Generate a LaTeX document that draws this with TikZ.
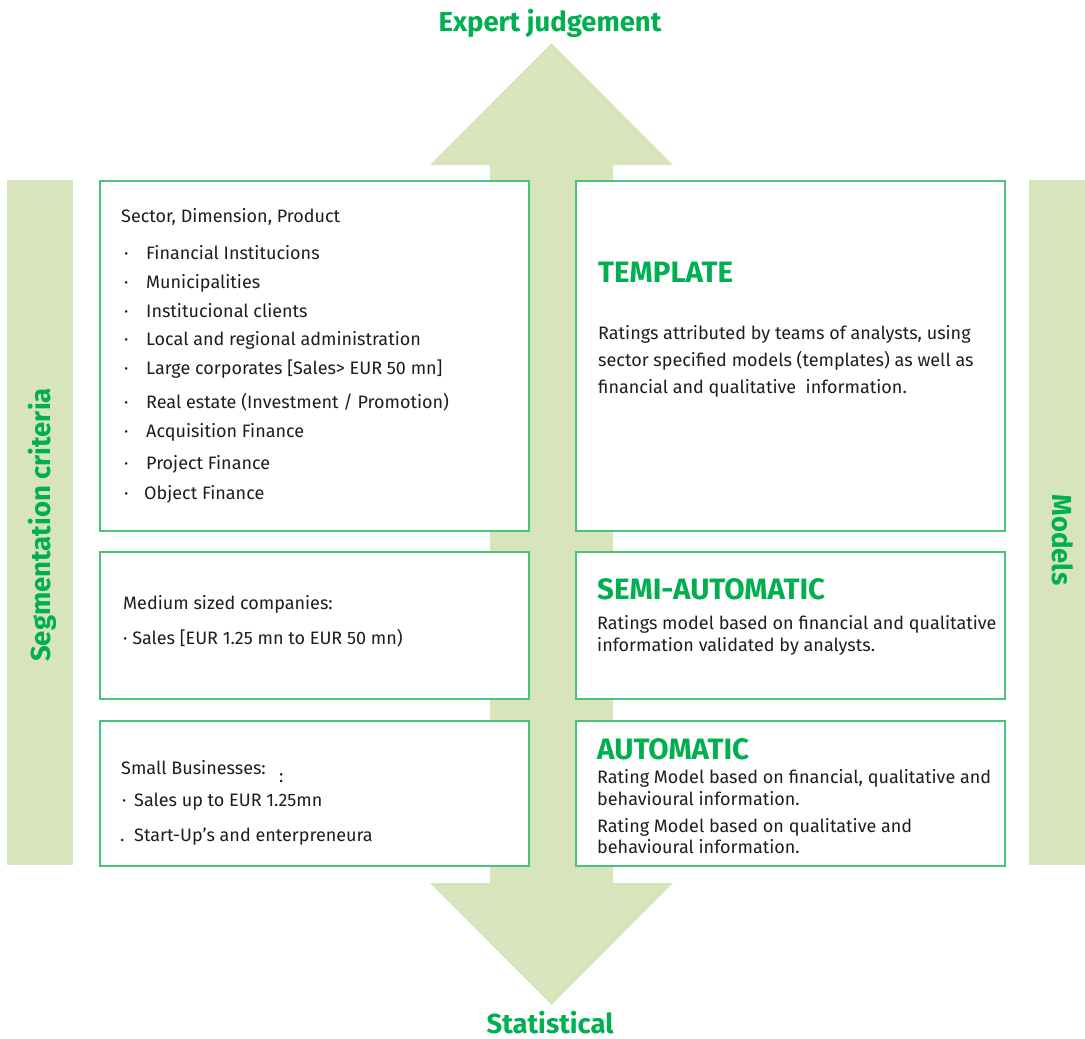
\documentclass[tikz,border=0pt]{standalone}
\usepackage{fontspec}
\setmainfont{Fira Sans}
\definecolor{lg}{RGB}{216,228,188}
\definecolor{tg}{RGB}{0,176,80}
\definecolor{bgr}{RGB}{72,196,122}
\definecolor{tx}{RGB}{30,30,30}
\begin{document}
\begin{tikzpicture}[x=1pt,y=-1pt,
  box/.style={draw=bgr,line width=1.5pt,fill=white,anchor=north west,inner sep=0pt},
  bar/.style={fill=lg,anchor=north west,inner sep=0pt,minimum width=66pt,minimum height=685pt},
  body/.style={anchor=base west,inner sep=0pt,font=\fontsize{18}{21}\selectfont,text=tx},
  ttl/.style={anchor=base west,inner sep=0pt,font=\fontsize{29.5}{33}\selectfont\bfseries,text=tg},
  head/.style={anchor=base,inner sep=0pt,font=\fontsize{27.5}{31}\selectfont\bfseries,text=tg}]
\useasboundingbox (0,0) rectangle (1085,1039);
% double arrow
\fill[lg] (490,883) -- (490,165) -- (430,165) -- (551.5,43) -- (673,165) -- (613,165)
  -- (613,883) -- (673,883) -- (551.5,1005) -- (430,883) -- cycle;
% side bars
\node[bar] (lbar) at (7,180) {};
\node[bar,minimum width=56pt] (rbar) at (1029,180) {};
% boxes
\node[box,minimum width=429pt,minimum height=350pt] (b1) at (99,180) {};
\node[box,minimum width=429pt,minimum height=350pt] (b2) at (575,180) {};
\node[box,minimum width=429pt,minimum height=147pt] (b3) at (99,551) {};
\node[box,minimum width=429pt,minimum height=147pt] (b4) at (575,551) {};
\node[box,minimum width=429pt,minimum height=145pt] (b5) at (99,720) {};
\node[box,minimum width=429pt,minimum height=145pt] (b6) at (575,720) {};
% headings
\node[head] (h1) at (550,31) {Expert judgement};
\node[head] (h2) at (550,1033) {Statistical};
\node[head,rotate=90] (h3) at (50,525) {Segmentation criteria};
\node[head,rotate=-90] (h4) at (1052,540) {Models};
% left top box
\node[body] (t0) at (121,222) {Sector, Dimension, Product};
\foreach \y/\t [count=\i] in {259/{Financial Institucions},288/{Municipalities},317/{Institucional clients},345/{Local and regional administration},374/{Large corporates [Sales> EUR 50 mn]},408/{Real estate (Investment / Promotion)},437/{Acquisition Finance},469/{Project Finance}}{
  \node[body] (d\i) at (124,\y) {·};
  \node[body] (l\i) at (146,\y) {\t};
}
\node[body] (d9) at (124,499) {·};
\node[body] (l9) at (144,499) {Object Finance};
% left mid
\node[body] (m1) at (123,609) {Medium sized companies:};
\node[body] (m2) at (123,644) {· Sales [EUR 1.25 mn to EUR 50 mn)};
% left bottom
\node[body] (s1) at (121,774) {Small Businesses:};
\node[body] (s1b) at (279,782) {:};
\node[body] (s2d) at (122,806) {·};
\node[body] (s2) at (134,806) {Sales up to EUR 1.25mn};
\node[body] (s3d) at (120,841) {.};
\node[body] (s3) at (134,841) {Start-Up’s and enterpreneura};
% right top
\node[ttl] (r1) at (598,282) {TEMPLATE};
\node[body] (r2) at (598,339) {Ratings attributed by teams of analysts, using};
\node[body] (r3) at (598,366) {sector specified models (templates) as well as};
\node[body] (r4) at (598,393) {financial and qualitative\ \ information.};
% right mid
\node[ttl] (q1) at (597,599) {SEMI-AUTOMATIC};
\node[body] (q2) at (597,629) {Ratings model based on financial and qualitative};
\node[body] (q3) at (597,651) {information validated by analysts.};
% right bottom
\node[ttl] (a1) at (597,759) {AUTOMATIC};
\node[body] (a2) at (597,783) {Rating Model based on financial, qualitative and};
\node[body] (a3) at (597,805) {behavioural information.};
\node[body] (a4) at (597,832) {Rating Model based on qualitative and};
\node[body] (a5) at (597,853) {behavioural information.};
\end{tikzpicture}
\end{document}
